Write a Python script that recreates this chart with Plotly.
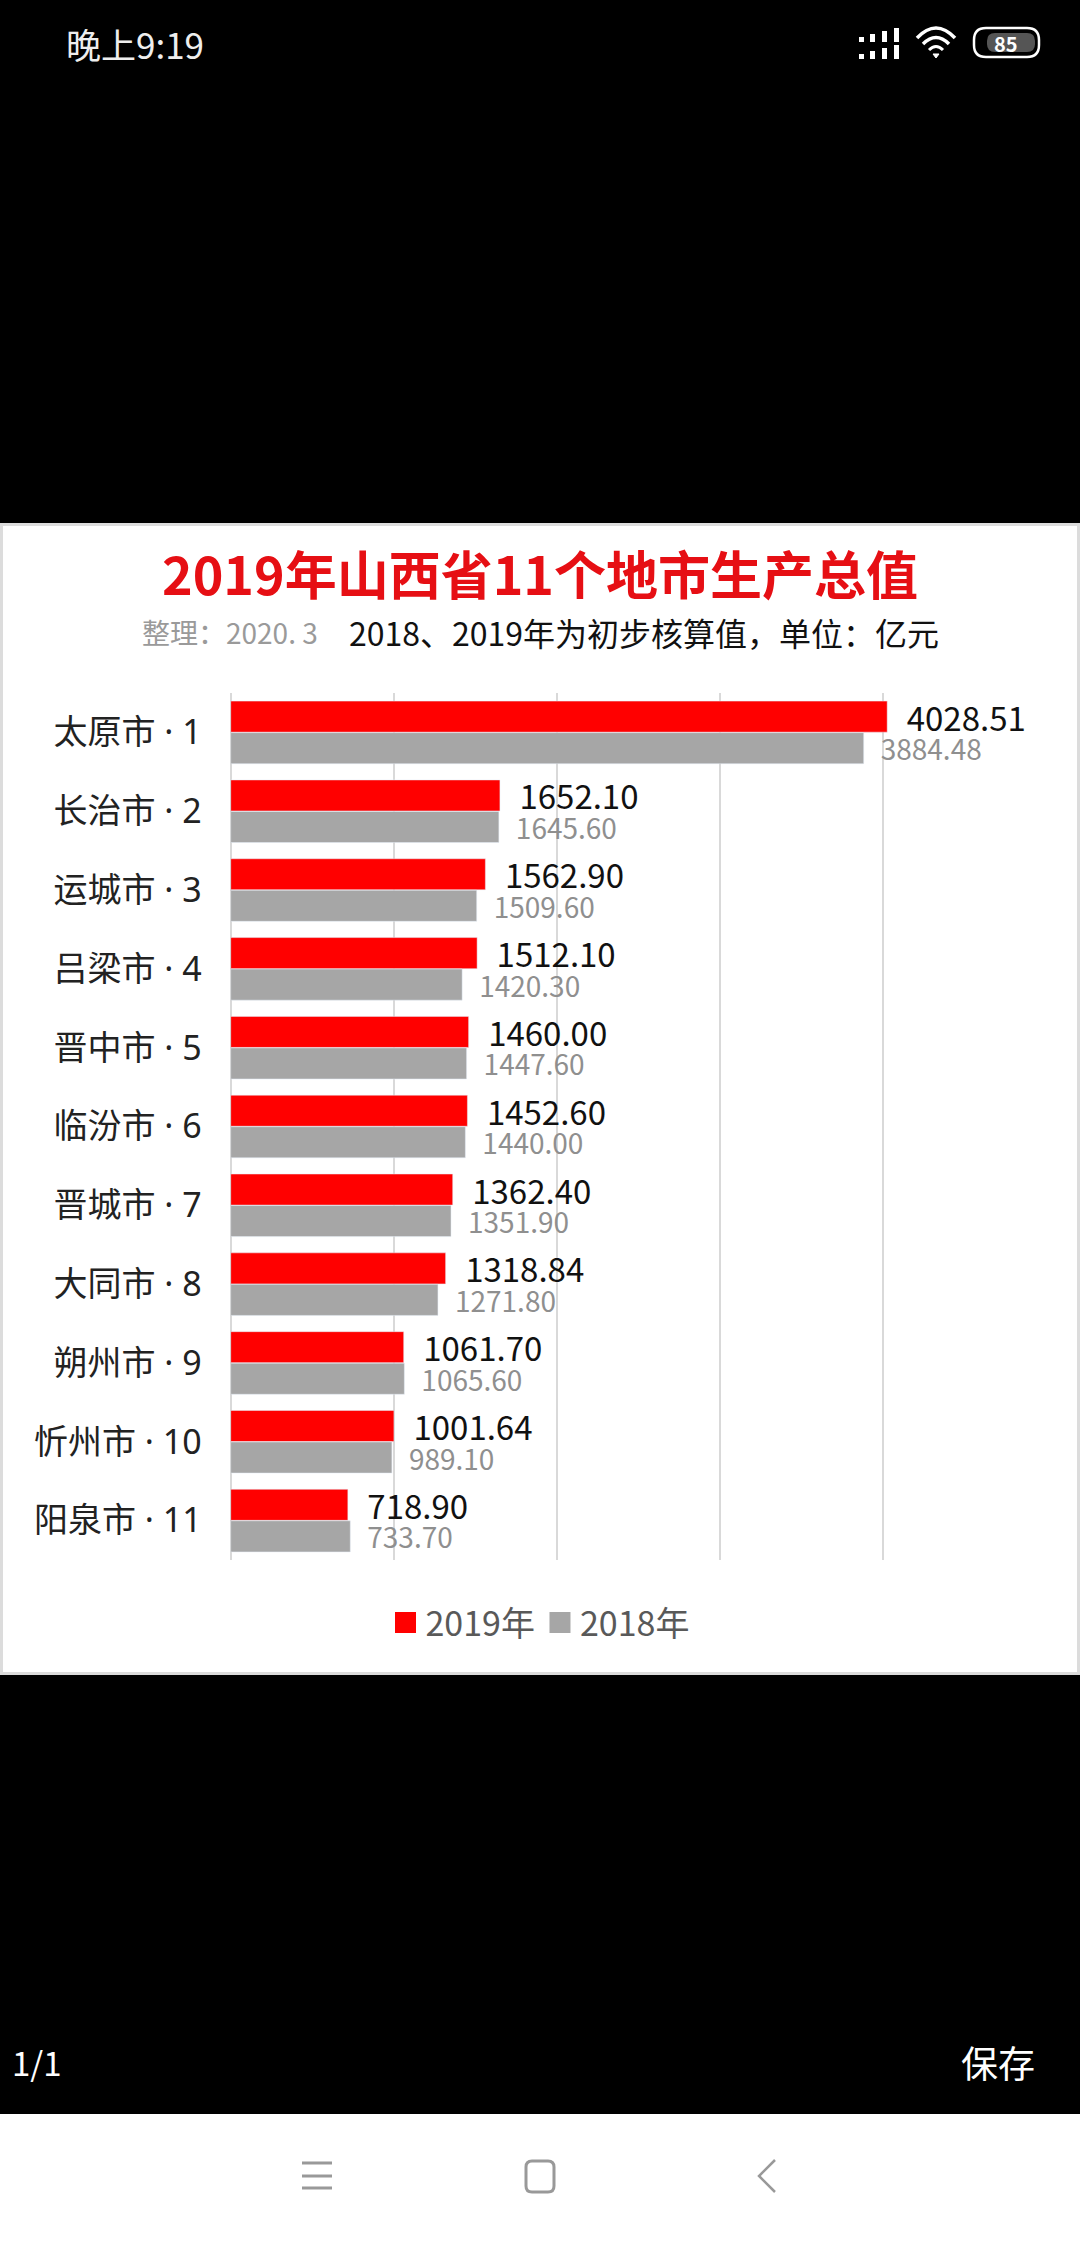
import plotly.graph_objects as go

cities = ["太原市 · 1", "长治市 · 2", "运城市 · 3", "吕梁市 · 4", "晋中市 · 5", "临汾市 · 6",
          "晋城市 · 7", "大同市 · 8", "朔州市 · 9", "忻州市 · 10", "阳泉市 · 11"]
gdp_2019 = [4028.51, 1652.10, 1562.90, 1512.10, 1460.00, 1452.60, 1362.40, 1318.84, 1061.70, 1001.64, 718.90]
gdp_2018 = [3884.48, 1645.60, 1509.60, 1420.30, 1447.60, 1440.00, 1351.90, 1271.80, 1065.60, 989.10, 733.70]
x_ticks = [0, 1000, 2000, 3000, 4000, 5000]

W, H = 1080, 2244
CJK = "Noto Sans CJK SC"
LATIN_CJK = "Noto Sans, Noto Sans CJK SC"
RED = "#ff0000"
GREY = "#a6a6a6"


def X(px):
  return px / W


def Y(px):
  return 1 - px / H


def rect(x0, y0, x1, y1, fill, line=None, width=0):
  return dict(type="rect", xref="paper", yref="paper", x0=X(x0), x1=X(x1), y0=Y(y0), y1=Y(y1),
              fillcolor=fill, line=dict(color=line or fill, width=width), layer="below")


def path(points, color, width=3, fill=None):
  # points is a list of svg commands with pixel coordinates, mapped to paper coords
  parts = []
  for cmd, *vals in points:
    coords = []
    for i in range(0, len(vals), 2):
      coords.append("%.5f,%.5f" % (X(vals[i]), Y(vals[i + 1])))
    parts.append(cmd + " ".join(coords))
  return dict(type="path", xref="paper", yref="paper", path=" ".join(parts),
              line=dict(color=color, width=width), fillcolor=fill or "rgba(0,0,0,0)", layer="above")


def round_rect(x0, y0, x1, y1, r, color, width=3, fill=None):
  pts = [("M", x0 + r, y0), ("L", x1 - r, y0), ("Q", x1, y0, x1, y0 + r), ("L", x1, y1 - r),
         ("Q", x1, y1, x1 - r, y1), ("L", x0 + r, y1), ("Q", x0, y1, x0, y1 - r), ("L", x0, y0 + r),
         ("Q", x0, y0, x0 + r, y0), ("Z",)]
  return path(pts, color, width, fill)


def label(text, x, y, size, color, anchor="center", weight=None):
  return dict(text=text, xref="paper", yref="paper", x=X(x), y=Y(y), xanchor=anchor, yanchor="middle",
              showarrow=False, font=dict(family=CJK, size=size, color=color, weight=weight))


fig = go.Figure()
fig.add_trace(go.Bar(y=cities, x=gdp_2019, orientation="h", marker_color=RED, showlegend=False,
                     text=["\u2002" + "%.2f" % v for v in gdp_2019], textposition="outside",
                     cliponaxis=False, constraintext="none",
                     textfont=dict(family=CJK, size=33, color="#111111")))
fig.add_trace(go.Bar(y=cities, x=gdp_2018, orientation="h", marker_color=GREY, showlegend=False,
                     text=["\u2002" + "%.2f" % v for v in gdp_2018], textposition="outside",
                     cliponaxis=False, constraintext="none",
                     textfont=dict(family=CJK, size=28, color="#8f8f8f")))
# legend entries, big square swatches are not possible on bar traces
fig.add_trace(go.Scatter(x=[None], y=[None], mode="markers", name="2019年",
                         marker=dict(symbol="square", size=16, color=RED, line=dict(color=RED, width=5))))
fig.add_trace(go.Scatter(x=[None], y=[None], mode="markers", name="2018年",
                         marker=dict(symbol="square", size=16, color=GREY, line=dict(color=GREY, width=5))))

shapes = [
  rect(0, 523, W, 1675, "#dcdcdc"),
  rect(3, 526, W - 3, 1672, "#ffffff"),
  rect(0, 2114, W, H, "#ffffff"),
  # nav bar icons
  path([("M", 302, 2163), ("L", 332, 2163)], "#999999", 3),
  path([("M", 302, 2176), ("L", 332, 2176)], "#999999", 3),
  path([("M", 302, 2188), ("L", 332, 2188)], "#999999", 3),
  round_rect(526, 2161, 554, 2192, 6, "#999999", 3),
  path([("M", 775, 2160), ("L", 759, 2176), ("L", 775, 2192)], "#999999", 2.5),
  # status bar: wifi and battery
  path([("M", 917, 38), ("Q", 936, 18, 955, 38)], "#ffffff", 3.5),
  path([("M", 923, 44), ("Q", 936, 31, 949, 44)], "#ffffff", 3.5),
  path([("M", 929, 50), ("Q", 936, 43, 943, 50)], "#ffffff", 3),
  path([("M", 933, 54), ("L", 936, 58), ("L", 939, 54), ("Z",)], "#ffffff", 1, "#ffffff"),
  round_rect(974, 28, 1039, 57, 12, "#ffffff", 2.5),
  round_rect(987, 33, 1035, 52, 8, "#555555", 0, "#555555"),
]
# signal icon, two rows of rising bars
for bottom in [42, 59]:
  for i, bx in enumerate([859, 870, 882, 894]):
    h = 5 + i * 3
    shapes.append(rect(bx, bottom - h, bx + 5, bottom, "#ffffff"))

annotations = [
  label("整理：2020. 3", 230, 632, 28, "#9a9a9a"),
  label("2018、2019年为初步核算值，单位：亿元", 644, 632, 32, "#111111"),
  label("晚上9:19", 135, 43, 35, "#eeeeee"),
  label("85", 1006, 43, 20, "#ffffff", weight="bold"),
  label("1/1", 37, 2062, 33, "#ffffff"),
  label("保存", 998, 2062, 37, "#ffffff"),
]

fig.update_layout(
  width=W, height=H, autosize=False, margin=dict(l=0, r=0, t=0, b=0, pad=0),
  paper_bgcolor="#000000", plot_bgcolor="rgba(0,0,0,0)",
  barmode="group", bargap=0.2, bargroupgap=0.015,
  title=dict(text="<b>2019年山西省11个地市生产总值</b>", x=0.5, xref="paper", xanchor="center",
             y=Y(577), yref="container", yanchor="middle",
             font=dict(family=CJK, size=52, color="#e60f14")),
  xaxis=dict(domain=[X(230.7), X(1045.5)], range=[0, 5000], tickvals=x_ticks, showticklabels=False,
             showgrid=True, gridcolor="#d9d9d9", gridwidth=1.5, zeroline=True, zerolinecolor="#d9d9d9",
             zerolinewidth=1.5, showline=False),
  yaxis=dict(domain=[Y(1560), Y(693)], autorange="reversed", showgrid=False, zeroline=False,
             ticks="", ticklabelstandoff=28, tickfont=dict(family=LATIN_CJK, size=34, color="#222222")),
  legend=dict(orientation="h", x=X(540), xanchor="center", y=Y(1623), yanchor="middle",
              font=dict(family=CJK, size=34, color="#595959"), bgcolor="rgba(0,0,0,0)",
              itemsizing="trace", itemclick=False, itemdoubleclick=False),
  shapes=shapes, annotations=annotations,
)

fig.write_html("out.html", config=dict(displayModeBar=False),
               post_script="document.body.style.margin='0';document.body.style.background='#000';")
